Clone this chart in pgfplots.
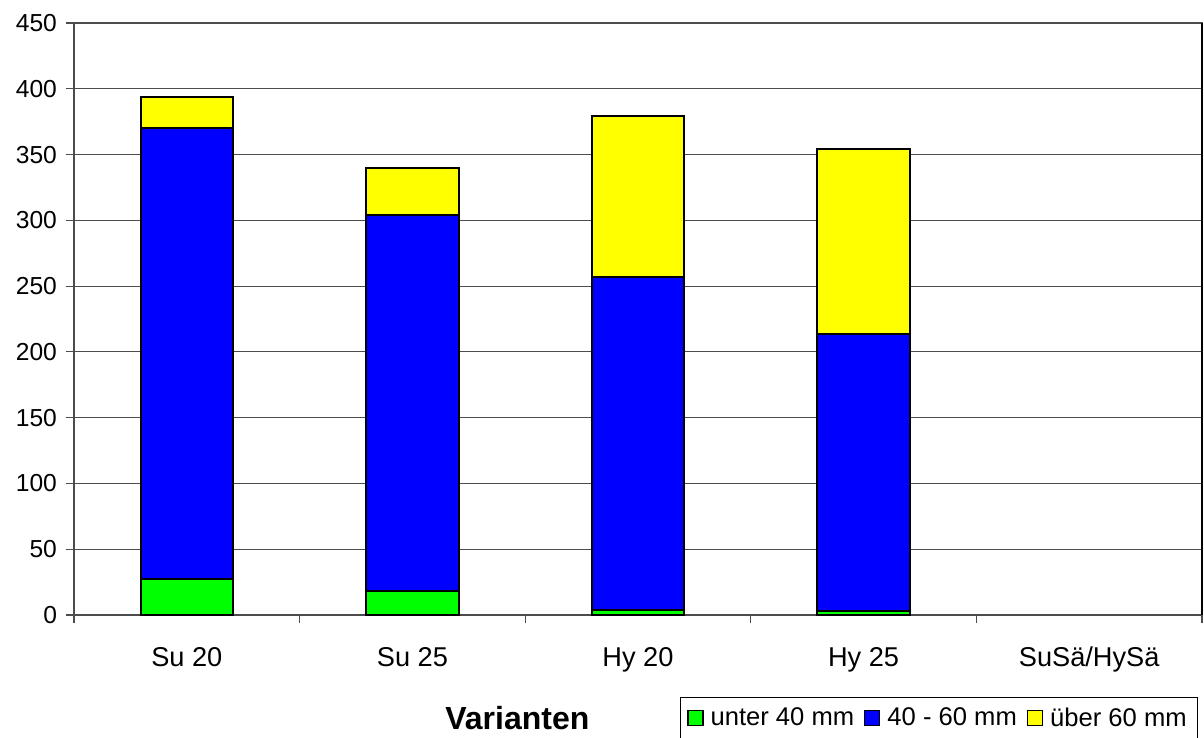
\documentclass[border=0pt]{standalone}
\usepackage{pgfplots}
\pgfplotsset{compat=1.18}
\usepackage{fontspec}
\setmainfont{Liberation Sans}

\definecolor{cGreen}{RGB}{0,255,0}
\definecolor{cBlue}{RGB}{0,0,255}
\definecolor{cYellow}{RGB}{255,255,0}

\begin{document}
\begin{tikzpicture}
\path[use as bounding box] (0,0) rectangle (602pt,369pt);
\begin{axis}[
    at={(37pt,61.5pt)}, anchor=south west,
    scale only axis, width=564pt, height=296pt,
    ybar stacked, bar width=0.41,
    xmin=-0.5, xmax=4.5,
    ymin=0, ymax=450,
    ytick={0,50,...,450},
    xtick={0,1,2,3,4},
    xticklabels={Su 20, Su 25, Hy 20, Hy 25, SuSä/HySä},
    minor xtick={-0.5,0.5,1.5,2.5,3.5,4.5},
    tick align=outside, tick pos=left,
    major x tick style={draw=none},
    minor x tick style={black!70, line width=0.6pt},
    major tick length=4pt, minor tick length=4pt,
    ytick style={black!70, line width=0.6pt},
    ymajorgrids, grid style={black!70, line width=0.6pt},
    axis line style={black!70, line width=0.6pt},
    /pgf/number format/assume math mode=true,
    yticklabel style={font=\fontsize{12.3}{14}\selectfont, xshift=-1pt},
    xticklabel style={font=\fontsize{13.6}{15}\selectfont, yshift=-8.5pt},
    xlabel={Varianten},
    xlabel style={at={(axis description cs:0.393,-0.174)}, anchor=center,
        font=\bfseries\fontsize{16}{18}\selectfont},
    legend columns=3,
    legend style={at={(axis description cs:0.537,-0.1385)}, anchor=north west,
        draw=black, line width=0.6pt, font=\fontsize{12.8}{14}\selectfont,
        inner xsep=3.5pt, inner ysep=3pt,
        /tikz/every odd column/.append style={column sep=1.5pt},
        /tikz/every even column/.append style={column sep=3pt}},
    legend image code/.code={\draw[#1, line width=0.6pt] (0pt,-3.5pt) rectangle (7.5pt,3.8pt);},
    every axis plot/.append style={draw=black, line width=1pt},
    clip=false,
]
\addplot[fill=cGreen] coordinates {(0,27) (1,18) (2,4) (3,3)};
\addlegendentry{unter 40 mm}
\addplot[fill=cBlue] coordinates {(0,343) (1,286) (2,253) (3,210.5)};
\addlegendentry{40 - 60 mm}
\addplot[fill=cYellow] coordinates {(0,24) (1,36) (2,122) (3,140.5)};
\addlegendentry{über 60 mm}
\draw[black, line width=0.8pt] (rel axis cs:1,0) -- (rel axis cs:1,1);
\end{axis}
\end{tikzpicture}
\end{document}
